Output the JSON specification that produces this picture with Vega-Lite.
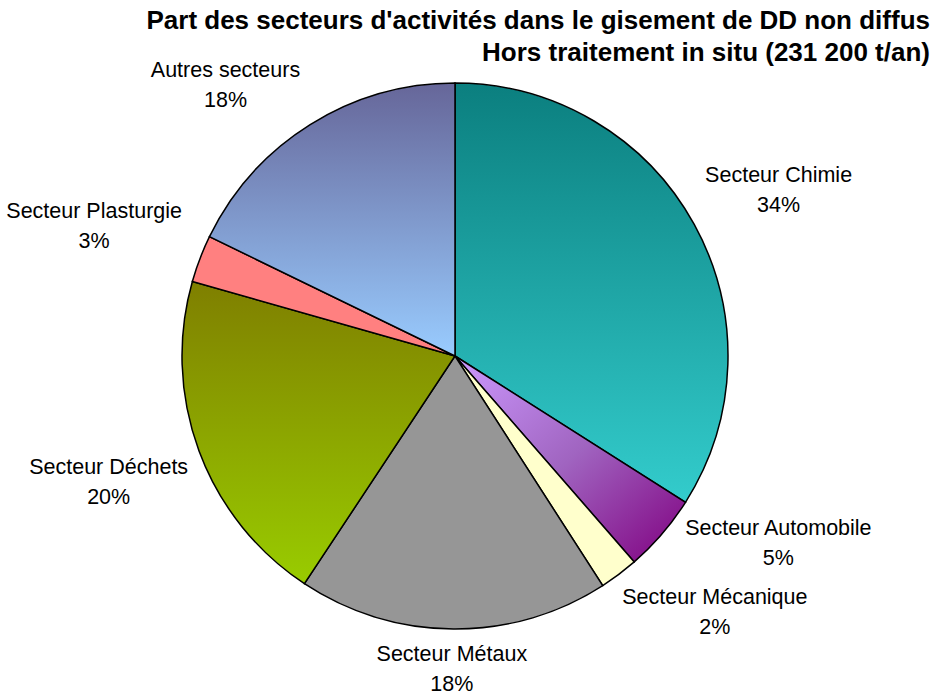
{
  "$schema": "https://vega.github.io/schema/vega-lite/v6.json",
  "width": 910,
  "height": 546,
  "autosize": "none",
  "padding": {"top": 83, "left": 0, "right": 25, "bottom": 64},
  "background": "white",
  "title": {
    "text": ["Part des secteurs d'activités dans le gisement de DD non diffus", "Hors traitement in situ (231 200 t/an)"],
    "anchor": "end",
    "align": "right",
    "frame": "group",
    "dx": 20,
    "offset": -6,
    "font": "Liberation Sans",
    "fontSize": 26,
    "fontWeight": "bold",
    "lineHeight": 32,
    "color": "black"
  },
  "data": {
    "values": [
      {"ordre": 1, "secteur": "Secteur Chimie", "part": 34.0},
      {"ordre": 2, "secteur": "Secteur Automobile", "part": 4.6},
      {"ordre": 3, "secteur": "Secteur Mécanique", "part": 2.3},
      {"ordre": 4, "secteur": "Secteur Métaux", "part": 18.4},
      {"ordre": 5, "secteur": "Secteur Déchets", "part": 20.1},
      {"ordre": 6, "secteur": "Secteur Plasturgie", "part": 2.8},
      {"ordre": 7, "secteur": "Autres secteurs", "part": 17.8}
    ]
  },
  "encoding": {
    "theta": {"field": "part", "type": "quantitative", "stack": true},
    "order": {"field": "ordre", "type": "quantitative"},
    "detail": {"field": "secteur", "type": "nominal"}
  },
  "layer": [
    {
      "mark": {"type": "arc", "outerRadius": 273, "stroke": "black", "strokeWidth": 1.5},
      "encoding": {
        "fill": {
          "condition": [
            {"test": "datum.secteur === 'Secteur Chimie'", "value": {"gradient": "linear", "x1": 0, "y1": 0, "x2": 0, "y2": 1, "stops": [{"offset": 0, "color": "#0B7F7F"}, {"offset": 1, "color": "#33CCCC"}]}},
            {"test": "datum.secteur === 'Secteur Automobile'", "value": {"gradient": "linear", "x1": 0, "y1": 0, "x2": 1, "y2": 1, "stops": [{"offset": 0, "color": "#CC99FF"}, {"offset": 0.5, "color": "#A064C0"}, {"offset": 1, "color": "#800080"}]}},
            {"test": "datum.secteur === 'Secteur Mécanique'", "value": "#FFFFCC"},
            {"test": "datum.secteur === 'Secteur Métaux'", "value": "#969696"},
            {"test": "datum.secteur === 'Secteur Déchets'", "value": {"gradient": "linear", "x1": 0, "y1": 0, "x2": 0, "y2": 1, "stops": [{"offset": 0, "color": "#7F7F00"}, {"offset": 1, "color": "#99CC00"}]}},
            {"test": "datum.secteur === 'Secteur Plasturgie'", "value": "#FF8080"}
          ],
          "value": {"gradient": "linear", "x1": 0, "y1": 0, "x2": 0, "y2": 1, "stops": [{"offset": 0, "color": "#666699"}, {"offset": 1, "color": "#99CCFF"}]}
        }
      }
    },
    {
      "mark": {
        "type": "text",
        "font": "Liberation Sans",
        "fontSize": 21.5,
        "lineHeight": 30,
        "color": "black",
        "align": "center",
        "baseline": "middle",
        "text": {"expr": "[datum.secteur, format(datum.part, '.0f') + '%']"},
        "radius": 287,
        "dx": {"expr": "length(datum.secteur) * 5.15 * clamp(3 * sin(PI * (datum.part_start + datum.part_end) / 100), -1, 1) + (datum.secteur === 'Secteur Automobile' ? 13 : 0)"},
        "dy": {"expr": "-15 - 27 * clamp(3 * cos(PI * (datum.part_start + datum.part_end) / 100), -1, 1) + (datum.secteur === 'Secteur Automobile' ? -26 : 0)"}
      }
    }
  ],
  "config": {"view": {"stroke": null}}
}
